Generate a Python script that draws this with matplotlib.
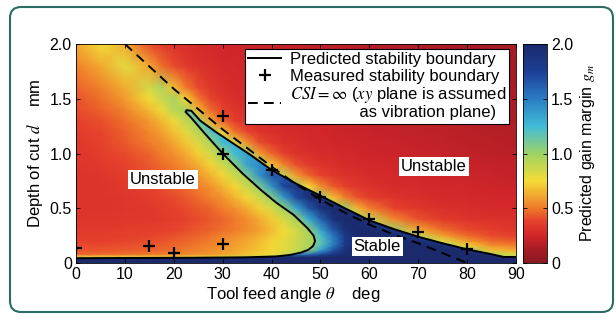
import matplotlib
matplotlib.use("Agg")
import matplotlib.pyplot as plt
import numpy as np
from matplotlib.colors import LinearSegmentedColormap
from matplotlib.patches import FancyBboxPatch, Polygon
from matplotlib.lines import Line2D

plt.rcParams['font.family'] = ['Liberation Sans', 'DejaVu Sans']
plt.rcParams['mathtext.fontset'] = 'stix'
plt.rcParams['font.size'] = 12

# gain margin map on a coarse grid.
# two tables: unstable side (outside the predicted boundary) and stable side (inside it)
feed_angle = [0, 5, 10, 15, 17.5, 20, 22.5, 25, 27.5, 30, 32.5, 35, 37.5, 40,
              42.5, 45, 47.5, 50, 52.5, 55, 57.5, 60, 65, 70, 75, 80, 85, 90]
depth = [0, 0.035, 0.055, 0.08, 0.12, 0.16, 0.2, 0.25, 0.3, 0.4, 0.5, 0.6,
         0.7, 0.8, 0.9, 1.0, 1.1, 1.2, 1.3, 1.4, 1.5, 1.6, 1.8, 2.0]

gm_unstable = [
    [0.85] * 28,
    [0.85] * 28,
    [0.8, 0.8, 0.8, 0.8, 0.8, 0.8, 0.8, 0.8, 0.82, 0.84, 0.86, 0.9, 0.95, 1.0, 1.0, 1.0, 1.0, 1.0, 1.0, 1.0, 1.0, 1.0, 1.0, 1.0, 1.0, 1.0, 1.0, 1.0],
    [0.46, 0.47, 0.48, 0.5, 0.51, 0.52, 0.54, 0.56, 0.58, 0.61, 0.64, 0.68, 0.72, 0.77, 0.85, 1.0, 1.0, 1.0, 1.0, 1.0, 1.0, 1.0, 1.0, 1.0, 1.0, 1.0, 0.95, 0.8],
    [0.42, 0.42, 0.43, 0.45, 0.46, 0.48, 0.5, 0.52, 0.55, 0.58, 0.61, 0.65, 0.69, 0.74, 0.8, 0.88, 1.0, 1.0, 1.0, 1.0, 1.0, 1.0, 1.0, 1.0, 1.0, 1.0, 0.67, 0.62],
    [0.4, 0.4, 0.41, 0.43, 0.44, 0.46, 0.48, 0.5, 0.53, 0.56, 0.6, 0.64, 0.68, 0.73, 0.79, 0.86, 0.95, 1.0, 1.0, 1.0, 1.0, 1.0, 1.0, 1.0, 1.0, 0.72, 0.55, 0.51],
    [0.38, 0.38, 0.39, 0.41, 0.42, 0.44, 0.46, 0.48, 0.51, 0.54, 0.58, 0.62, 0.67, 0.73, 0.79, 0.86, 0.95, 1.0, 1.0, 1.0, 1.0, 1.0, 1.0, 1.0, 0.82, 0.58, 0.47, 0.44],
    [0.36, 0.36, 0.37, 0.39, 0.4, 0.42, 0.44, 0.46, 0.49, 0.52, 0.55, 0.59, 0.64, 0.7, 0.77, 0.85, 0.95, 1.0, 1.0, 1.0, 1.0, 1.0, 1.0, 0.9, 0.6, 0.47, 0.4, 0.38],
    [0.35, 0.35, 0.36, 0.37, 0.38, 0.39, 0.41, 0.43, 0.45, 0.48, 0.51, 0.55, 0.6, 0.67, 0.75, 0.85, 0.98, 1.0, 1.0, 1.0, 1.0, 1.0, 1.0, 0.63, 0.48, 0.4, 0.36, 0.34],
    [0.33, 0.33, 0.34, 0.34, 0.35, 0.36, 0.38, 0.4, 0.43, 0.46, 0.5, 0.55, 0.62, 0.71, 0.83, 0.97, 1.0, 1.0, 1.0, 1.0, 1.0, 0.9, 0.54, 0.42, 0.35, 0.32, 0.31, 0.3],
    [0.32, 0.32, 0.33, 0.34, 0.36, 0.38, 0.4, 0.43, 0.46, 0.51, 0.56, 0.63, 0.72, 0.84, 0.99, 1.0, 1.0, 1.0, 1.0, 1.0, 0.66, 0.52, 0.39, 0.33, 0.3, 0.29, 0.27, 0.27],
    [0.32, 0.32, 0.33, 0.36, 0.38, 0.4, 0.43, 0.47, 0.52, 0.57, 0.65, 0.74, 0.86, 1.0, 1.0, 1.0, 1.0, 1.0, 0.68, 0.52, 0.42, 0.36, 0.32, 0.29, 0.27, 0.26, 0.25, 0.25],
    [0.32, 0.32, 0.35, 0.38, 0.41, 0.44, 0.47, 0.52, 0.57, 0.65, 0.74, 0.87, 1.0, 1.0, 1.0, 1.0, 0.75, 0.56, 0.44, 0.37, 0.33, 0.31, 0.28, 0.27, 0.26, 0.25, 0.24, 0.23],
    [0.32, 0.33, 0.36, 0.41, 0.44, 0.47, 0.52, 0.57, 0.65, 0.74, 0.87, 1.0, 1.0, 1.0, 0.9, 0.6, 0.46, 0.39, 0.34, 0.31, 0.3, 0.28, 0.27, 0.25, 0.24, 0.23, 0.22, 0.21],
    [0.33, 0.35, 0.38, 0.43, 0.47, 0.51, 0.57, 0.64, 0.73, 0.86, 1.0, 1.0, 1.0, 0.68, 0.52, 0.41, 0.35, 0.32, 0.3, 0.28, 0.27, 0.26, 0.25, 0.24, 0.23, 0.22, 0.21, 0.2],
    [0.33, 0.36, 0.4, 0.46, 0.51, 0.56, 0.63, 0.72, 0.85, 1.0, 1.0, 1.0, 0.6, 0.46, 0.37, 0.32, 0.3, 0.28, 0.27, 0.26, 0.25, 0.24, 0.23, 0.22, 0.21, 0.2, 0.19, 0.18],
    [0.34, 0.38, 0.43, 0.5, 0.55, 0.61, 0.7, 0.82, 0.96, 1.0, 0.82, 0.57, 0.41, 0.35, 0.31, 0.29, 0.27, 0.26, 0.25, 0.24, 0.24, 0.23, 0.22, 0.21, 0.2, 0.19, 0.18, 0.17],
    [0.36, 0.39, 0.45, 0.54, 0.6, 0.68, 0.8, 0.93, 1.0, 0.7, 0.49, 0.39, 0.32, 0.3, 0.28, 0.27, 0.26, 0.25, 0.24, 0.23, 0.23, 0.22, 0.21, 0.2, 0.19, 0.18, 0.17, 0.16],
    [0.38, 0.41, 0.48, 0.58, 0.66, 0.77, 0.9, 1.0, 0.63, 0.45, 0.36, 0.32, 0.3, 0.28, 0.27, 0.26, 0.25, 0.24, 0.23, 0.22, 0.22, 0.21, 0.2, 0.19, 0.18, 0.17, 0.16, 0.15],
    [0.4, 0.45, 0.53, 0.67, 0.77, 0.92, 0.97, 0.65, 0.47, 0.38, 0.33, 0.3, 0.29, 0.27, 0.26, 0.25, 0.24, 0.23, 0.22, 0.22, 0.21, 0.2, 0.19, 0.18, 0.17, 0.16, 0.15, 0.14],
    [0.42, 0.48, 0.58, 0.75, 0.88, 0.97, 0.72, 0.5, 0.39, 0.33, 0.3, 0.28, 0.27, 0.26, 0.25, 0.24, 0.23, 0.22, 0.22, 0.21, 0.2, 0.2, 0.19, 0.18, 0.17, 0.16, 0.15, 0.14],
    [0.45, 0.52, 0.63, 0.85, 0.94, 0.68, 0.5, 0.4, 0.34, 0.3, 0.28, 0.27, 0.26, 0.25, 0.24, 0.23, 0.22, 0.22, 0.21, 0.2, 0.2, 0.19, 0.18, 0.17, 0.16, 0.15, 0.14, 0.13],
    [0.52, 0.62, 0.8, 0.62, 0.48, 0.4, 0.35, 0.31, 0.29, 0.27, 0.26, 0.25, 0.24, 0.23, 0.22, 0.22, 0.21, 0.2, 0.2, 0.19, 0.19, 0.18, 0.17, 0.16, 0.15, 0.14, 0.13, 0.12],
    [0.62, 0.76, 0.64, 0.4, 0.35, 0.31, 0.29, 0.27, 0.26, 0.25, 0.24, 0.23, 0.22, 0.22, 0.21, 0.2, 0.2, 0.19, 0.19, 0.18, 0.18, 0.17, 0.16, 0.15, 0.14, 0.13, 0.12, 0.11],
]

gm_stable = [
    [2.0] * 28,
    [2.0] * 28,
    [2.0] * 28,
    [1.6] * 15 + [1.5, 1.55, 1.7, 1.85, 1.95, 2.0, 2.0, 2.0, 2.0, 2.0, 2.0, 1.95, 1.9],
    [1.0] * 16 + [1.02, 1.34, 1.65, 1.92, 2.0, 2.0, 2.0, 2.0, 2.0, 1.95, 1.85, 1.8],
    [1.0] * 16 + [1.0, 1.2, 1.5, 1.82, 1.97, 2.0, 2.0, 2.0, 1.95, 1.8, 1.8, 1.8],
    [1.0] * 16 + [1.0, 1.16, 1.47, 1.79, 1.97, 2.0, 2.0, 1.95, 1.8, 1.8, 1.8, 1.8],
    [1.0] * 16 + [1.0, 1.22, 1.52, 1.83, 1.97, 2.0, 1.95, 1.8, 1.8, 1.8, 1.8, 1.8],
    [1.0] * 16 + [1.02, 1.33, 1.64, 1.9, 2.0, 2.0, 1.9] + [1.8] * 5,
    [1.0] * 15 + [1.0, 1.3, 1.6, 1.89, 2.0, 1.95, 1.85] + [1.8] * 6,
    [1.0] * 14 + [1.02, 1.33, 1.64, 1.9, 2.0, 1.9] + [1.8] * 8,
    [1.0] * 13 + [1.07, 1.39, 1.7, 1.94, 1.95] + [1.8] * 10,
    [1.0] * 12 + [1.08, 1.4, 1.72, 1.85] + [1.8] * 12,
    [1.0] * 11 + [1.1, 1.41, 1.65] + [1.65] * 14,
    [1.0] * 10 + [1.05, 1.35, 1.45] + [1.45] * 15,
    [1.0] * 10 + [1.25, 1.35] + [1.35] * 16,
    [1.0] * 9 + [1.25] + [1.3] * 18,
    [1.0] * 8 + [1.2] + [1.25] * 19,
    [1.0] * 7 + [1.15] + [1.2] * 20,
    [1.1] * 28,
    [1.1] * 28,
    [1.1] * 28,
    [1.1] * 28,
    [1.1] * 28,
]

# predicted stability boundary (solid)
boundary_angle = [0, 24, 35, 41, 44, 46, 47.5, 48.5, 48.9, 48.6, 47.3, 44.5, 41, 38, 34,
                  30, 26, 23.5, 22.4, 22.6, 23.6, 25.4, 28.5, 32.2, 35.6, 40, 45, 50,
                  55, 60, 65, 70, 75, 80, 85, 87.5, 90]
boundary_depth = [0.044, 0.048, 0.052, 0.06, 0.075, 0.095, 0.12, 0.155, 0.2, 0.25, 0.32,
                  0.44, 0.55, 0.66, 0.82, 1.0, 1.2, 1.33, 1.38, 1.395, 1.39, 1.30, 1.2,
                  1.09, 0.99, 0.85, 0.725, 0.615, 0.5, 0.39, 0.31, 0.24, 0.18, 0.125,
                  0.08, 0.055, 0.055]

# CSI = inf line (dashed)
csi_angle = [10, 20, 30, 40, 45, 50, 55, 60, 65, 70, 75, 80]
csi_depth = [2.0, 1.59, 1.22, 0.88, 0.72, 0.58, 0.46, 0.35, 0.26, 0.18, 0.09, 0.0]

# measured stability boundary (+)
measured_angle = [0, 15, 20, 30, 30, 30, 40, 50, 60, 70, 80]
measured_depth = [0.14, 0.155, 0.095, 0.17, 1.0, 1.34, 0.845, 0.6, 0.4, 0.28, 0.125]

cbar_ticks = [0, 0.5, 1.0, 1.5, 2.0]
cbar_ticklabels = ['0', '0.5', '1.0', '1.5', '2.0']

# muted jet, reversed (0 = dark red, 2 = navy)
cmap = LinearSegmentedColormap.from_list('gm', [
    (0.0, '#8a1820'),
    (0.0625, '#a81c24'),
    (0.125, '#d2262a'),
    (0.19, '#e6412c'),
    (0.25, '#f07a2a'),
    (0.375, '#f4dc36'),
    (0.5, '#9ed266'),
    (0.625, '#40bcd8'),
    (0.75, '#2a7cc4'),
    (0.875, '#1d3f94'),
    (1.0, '#1a2a6c'),
])

fig = plt.figure(figsize=(6.16, 3.2), dpi=100)

frame = FancyBboxPatch((10, 8), 603, 305, boxstyle='round,pad=0,rounding_size=11',
                       transform=None, facecolor='white', edgecolor='#2c6b5f',
                       linewidth=1.5, zorder=0)
fig.add_artist(frame)

ax = fig.add_axes([76 / 616, 57 / 320, 440 / 616, 219 / 320])
cax = fig.add_axes([523 / 616, 57 / 320, 24 / 616, 219 / 320])

mesh = ax.pcolormesh(feed_angle, depth, np.array(gm_unstable), shading='gouraud',
                     cmap=cmap, vmin=0, vmax=2, rasterized=True)
mesh_in = ax.pcolormesh(feed_angle, depth, np.array(gm_stable), shading='gouraud',
                        cmap=cmap, vmin=0, vmax=2, rasterized=True)
# stable side only shows below the predicted boundary
stable_poly = Polygon(list(zip(boundary_angle, boundary_depth)) + [(90, -0.1), (0, -0.1)],
                      closed=True, transform=ax.transData)
mesh_in.set_clip_path(stable_poly)

ax.plot(boundary_angle, boundary_depth, color='black', lw=1.4)
ax.plot(csi_angle, csi_depth, color='black', lw=1.4, dashes=(5, 3.2))
ax.plot(measured_angle, measured_depth, linestyle='none', marker='+', color='black',
        ms=9, mew=1.6)

ax.set_xlim(0, 90)
ax.set_ylim(0, 2.0)
ax.set_xticks(range(0, 91, 10))
ax.set_yticks([0, 0.5, 1.0, 1.5, 2.0])
ax.set_yticklabels(['0', '0.5', '1.0', '1.5', '2.0'])
ax.tick_params(direction='in', top=True, right=True, length=3, width=0.6, pad=3,
               labelsize=11.5)
for sp in ax.spines.values():
    sp.set_linewidth(0.6)

ax.set_xlabel(r'Tool feed angle $\theta$    deg')
ax.xaxis.set_label_coords(0.493, -0.1)
ax.set_ylabel(r'Depth of cut $d$    mm')
ax.yaxis.set_label_coords(-0.07, 0.5)

box = dict(facecolor='white', edgecolor='none', pad=1.5)
ax.text(17.8, 0.76, 'Unstable', ha='center', va='center', bbox=box)
ax.text(73.2, 0.885, 'Unstable', ha='center', va='center', bbox=box)
ax.text(61.6, 0.155, 'Stable', ha='center', va='center', bbox=box)

handles = [
    Line2D([], [], color='black', lw=1.4),
    Line2D([], [], linestyle='none', marker='+', color='black', ms=8, mew=1.6),
    Line2D([], [], color='black', lw=1.4, dashes=(5, 3.2)),
]
labels = [
    'Predicted stability boundary',
    'Measured stability boundary',
    r'$CSI=\infty$ ($xy$ plane is assumed' + '\n' + ' ' * 15 + 'as vibration plane)',
]
leg = ax.legend(handles, labels, loc='upper right', bbox_to_anchor=(0.985, 0.978),
                frameon=True, fancybox=False, framealpha=1, edgecolor='black',
                borderpad=0.2, labelspacing=0.1, handlelength=2.0,
                handletextpad=0.5, borderaxespad=0, fontsize=12)
leg.get_frame().set_linewidth(0.8)
leg.get_texts()[2].set_linespacing(1.0)

cb = fig.colorbar(mesh, cax=cax, ticks=cbar_ticks)
cb.set_ticklabels(cbar_ticklabels)
cb.ax.tick_params(direction='in', length=3, width=0.6, pad=3, left=True, labelsize=11.5)
cb.outline.set_linewidth(0.6)
cb.set_label('Predicted gain margin $g_m$', labelpad=3, fontsize=11.5)

fig.savefig('out.png', dpi=100)
